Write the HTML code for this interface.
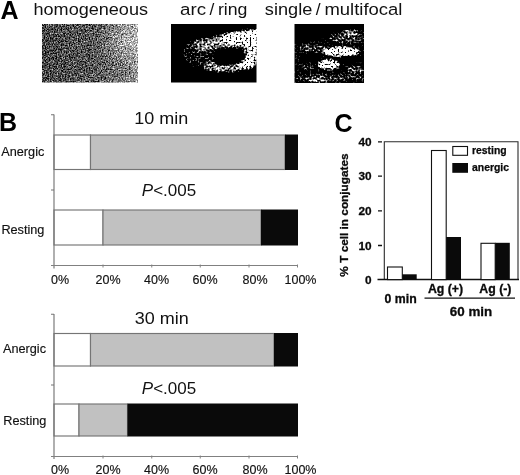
<!DOCTYPE html>
<html>
<head>
<meta charset="utf-8">
<title>Figure</title>
<style>
  html, body { margin: 0; padding: 0; background: #ffffff; }
  body { width: 520px; height: 475px; overflow: hidden; font-family: "Liberation Sans", sans-serif; }
  svg { display: block; opacity: 0.999; }
  text { font-family: "Liberation Sans", sans-serif; fill: #111; }
  .lbl { font-size: 17.4px; }
  .panel { font-size: 25px; font-weight: bold; fill: #000; }
  .tick { font-size: 12.5px; fill: #111; stroke: #111; stroke-width: 0.15px; }
  .cat { font-size: 12.7px; fill: #111; stroke: #111; stroke-width: 0.15px; }
  .ttl { font-size: 17px; fill: #111; }
  .cb { font-size: 11.8px; font-weight: bold; fill: #0a0a0a; stroke: #0a0a0a; stroke-width: 0.3px; }
  .lg { font-size: 10.4px; font-weight: bold; fill: #0a0a0a; stroke: #0a0a0a; stroke-width: 0.25px; }
  .xb { font-size: 12.3px; font-weight: bold; fill: #0a0a0a; stroke: #0a0a0a; stroke-width: 0.3px; }
</style>
</head>
<body>
<svg width="520" height="475" viewBox="0 0 520 475">
  <defs>
    <!-- noise filters for the micrographs -->
    <filter id="grainA" x="0" y="0" width="100%" height="100%" color-interpolation-filters="sRGB">
      <feTurbulence type="fractalNoise" baseFrequency="0.75" numOctaves="2" seed="3" result="t"/>
      <feColorMatrix in="t" type="matrix" values="1 0 0 0 0  1 0 0 0 0  1 0 0 0 0  0 0 0 0 1" result="n"/>
      <feComposite in="SourceGraphic" in2="n" operator="arithmetic" k1="0" k2="1" k3="1.3" k4="-0.65" result="s"/>
      <feComponentTransfer in="s">
        <feFuncR type="linear" slope="1.2" intercept="0"/>
        <feFuncG type="linear" slope="1.2" intercept="0"/>
        <feFuncB type="linear" slope="1.2" intercept="0"/>
      </feComponentTransfer>
      <feGaussianBlur stdDeviation="0.6"/>
    </filter>
    <filter id="grainB" x="0" y="0" width="100%" height="100%" color-interpolation-filters="sRGB">
      <feTurbulence type="fractalNoise" baseFrequency="0.5" numOctaves="2" seed="11" result="t"/>
      <feColorMatrix in="t" type="matrix" values="1 0 0 0 0  1 0 0 0 0  1 0 0 0 0  0 0 0 0 1" result="n"/>
      <feComposite in="SourceGraphic" in2="n" operator="arithmetic" k1="3.4" k2="-0.6" k3="0" k4="-0.25" result="s"/>
      <feComponentTransfer in="s">
        <feFuncR type="linear" slope="2.4" intercept="-0.35"/>
        <feFuncG type="linear" slope="2.4" intercept="-0.35"/>
        <feFuncB type="linear" slope="2.4" intercept="-0.35"/>
        <feFuncA type="linear" slope="0" intercept="1"/>
      </feComponentTransfer>
      <feGaussianBlur stdDeviation="0.7"/>
    </filter>
    <linearGradient id="gA" x1="0" y1="0" x2="1" y2="0">
      <stop offset="0" stop-color="#3a3a3a"/>
      <stop offset="0.5" stop-color="#484848"/>
      <stop offset="0.8" stop-color="#5e5e5e"/>
      <stop offset="0.94" stop-color="#787878"/>
      <stop offset="1" stop-color="#a8a8a8"/>
    </linearGradient>
    <radialGradient id="gA2" cx="126" cy="40" r="28" gradientUnits="userSpaceOnUse">
      <stop offset="0" stop-color="#fff" stop-opacity="0.32"/>
      <stop offset="1" stop-color="#fff" stop-opacity="0"/>
    </radialGradient>
    <filter id="blur3" x="-30%" y="-30%" width="160%" height="160%"><feGaussianBlur stdDeviation="3"/></filter>
    <filter id="blur2" x="-30%" y="-30%" width="160%" height="160%"><feGaussianBlur stdDeviation="2"/></filter>
    <filter id="blur1" x="-30%" y="-30%" width="160%" height="160%"><feGaussianBlur stdDeviation="1.3"/></filter>
    <clipPath id="cA"><rect x="42" y="24" width="96" height="58.5"/></clipPath>
    <clipPath id="cB"><rect x="171" y="24" width="85.5" height="58.5"/></clipPath>
    <clipPath id="cC"><rect x="294.5" y="24" width="69.5" height="59"/></clipPath>
  </defs>

  <rect x="0" y="0" width="520" height="475" fill="#ffffff"/>

  <!-- ================= Panel A ================= -->
  <text class="panel" x="0.5" y="19">A</text>
  <text class="lbl" x="33.5" y="14.6" textLength="114.5" lengthAdjust="spacingAndGlyphs">homogeneous</text>
  <text class="lbl" x="180" y="14.6"><tspan textLength="26" lengthAdjust="spacingAndGlyphs">arc</tspan><tspan dx="3.5">/</tspan><tspan dx="3.6" textLength="29.5" lengthAdjust="spacingAndGlyphs">ring</tspan></text>
  <text class="lbl" x="264.8" y="14.6"><tspan textLength="47.5" lengthAdjust="spacingAndGlyphs">single</tspan><tspan dx="3.5">/</tspan><tspan dx="3.8" textLength="78" lengthAdjust="spacingAndGlyphs">multifocal</tspan></text>

  <!-- micrograph 1 -->
  <g clip-path="url(#cA)">
    <g filter="url(#grainA)">
      <rect x="40" y="22" width="100" height="62" fill="url(#gA)"/>
      <rect x="40" y="22" width="100" height="62" fill="url(#gA2)"/>
    </g>
  </g>

  <!-- micrograph 2 -->
  <g clip-path="url(#cB)">
    <g filter="url(#grainB)">
      <rect x="169" y="22" width="90" height="63" fill="#000"/>
      <g filter="url(#blur2)">
        <ellipse cx="200" cy="53" rx="19" ry="16" fill="#5a5a5a"/>
        <path d="M 192 45 C 205 37, 225 31, 259 28 L 259 52 C 248 47, 230 45, 202 51 Z" fill="#989898"/>
        <path d="M 222 36 C 235 33, 247 32, 259 31 L 259 48 C 248 44, 235 42, 224 43 Z" fill="#fff"/>
        <path d="M 244 44 L 259 44 L 259 64 L 246 67 Z" fill="#c0c0c0"/>
        <path d="M 258 59 C 250 67, 232 71, 206 67" fill="none" stroke="#a4a4a4" stroke-width="8"/>
        <ellipse cx="247" cy="64" rx="8" ry="3.5" fill="#fff"/>
        <ellipse cx="226" cy="52" rx="16" ry="5" transform="rotate(-5 226 52)" fill="#000" opacity="0.62"/>
      </g>
    </g>
  </g>

  <!-- micrograph 3 -->
  <g clip-path="url(#cC)">
    <g filter="url(#grainB)">
      <rect x="292" y="22" width="75" height="64" fill="#000"/>
      <g filter="url(#blur1)">
        <path d="M 292 42 L 320 38 L 335 29 L 367 27 L 367 86 L 292 86 Z" fill="#444"/>
        <ellipse cx="347" cy="38" rx="17" ry="5" fill="#6c6c6c"/>
        <ellipse cx="351" cy="33" rx="8" ry="2.5" fill="#9a9a9a"/>
        <ellipse cx="312" cy="48" rx="14" ry="3.5" fill="#707070"/>
        <ellipse cx="341" cy="51.5" rx="18" ry="4" fill="#f0f0f0"/>
        <ellipse cx="329" cy="64.5" rx="10" ry="4" fill="#fff"/>
        <ellipse cx="306" cy="67" rx="9" ry="3" fill="#646464"/>
        <ellipse cx="355" cy="70" rx="9" ry="3.5" fill="#767676"/>
        <ellipse cx="330" cy="77.5" rx="36" ry="3" fill="#6a6a6a"/>
        <ellipse cx="318" cy="80" rx="9" ry="2" fill="#9a9a9a"/>
        <ellipse cx="350" cy="60" rx="12" ry="2.5" fill="#000" opacity="0.8"/>
        <ellipse cx="310" cy="58" rx="10" ry="3" fill="#000" opacity="0.8"/>
      </g>
    </g>
  </g>

  <!-- ================= Panel B ================= -->
  <text class="panel" x="-0.9" y="131.2">B</text>

  <!-- chart 1 -->
  <g>
    <text class="ttl" x="134.2" y="124.2" textLength="54" lengthAdjust="spacingAndGlyphs">10 min</text>
    <text class="ttl" x="169" y="196.3" text-anchor="middle"><tspan font-style="italic">P</tspan>&lt;.005</text>
    <text class="cat" x="1.3" y="155.7">Anergic</text>
    <text class="cat" x="1.4" y="233.6">Resting</text>
    <!-- bars -->
    <g stroke="#757575" stroke-width="1.15">
      <rect x="54" y="135" width="36.5" height="34.5" fill="#fff"/>
      <rect x="90.5" y="135" width="194.5" height="34.5" fill="#c1c1c1"/>
      <rect x="54" y="210" width="49" height="35" fill="#fff"/>
      <rect x="103" y="210" width="158" height="35" fill="#c1c1c1"/>
    </g>
    <rect x="285" y="134.5" width="13" height="35.5" fill="#0a0a0a"/>
    <rect x="261" y="209.5" width="37" height="36" fill="#0a0a0a"/>
    <!-- axes -->
    <g fill="none" stroke="#757575" stroke-width="1.15">
      <path d="M54 114.5 V268.5"/>
      <path d="M51 114.7 H54 M51 190 H54"/>
    </g>
    <g fill="none" stroke="#808080" stroke-width="1">
      <path d="M51 265.5 H298"/>
      <path d="M103 264.5 v3 M151.75 264.5 v3 M200.25 264.5 v3 M249 264.5 v3 M297.5 264.5 v3"/>
    </g>
    <text class="tick" x="60" y="283.8" text-anchor="middle">0%</text>
    <text class="tick" x="108" y="283.8" text-anchor="middle">20%</text>
    <text class="tick" x="156.5" y="283.8" text-anchor="middle">40%</text>
    <text class="tick" x="205" y="283.8" text-anchor="middle">60%</text>
    <text class="tick" x="255" y="283.8" text-anchor="middle">80%</text>
    <text class="tick" x="300.5" y="283.8" text-anchor="middle">100%</text>
  </g>

  <!-- chart 2 -->
  <g>
    <text class="ttl" x="134.7" y="324.2" textLength="54" lengthAdjust="spacingAndGlyphs">30 min</text>
    <text class="ttl" x="169" y="393.8" text-anchor="middle"><tspan font-style="italic">P</tspan>&lt;.005</text>
    <text class="cat" x="3" y="352.5">Anergic</text>
    <text class="cat" x="3.3" y="425.2">Resting</text>
    <g stroke="#757575" stroke-width="1.15">
      <rect x="54" y="333.5" width="36.5" height="32.5" fill="#fff"/>
      <rect x="90.5" y="333.5" width="183.5" height="32.5" fill="#c1c1c1"/>
      <rect x="54" y="404" width="25" height="32" fill="#fff"/>
      <rect x="79" y="404" width="48.5" height="32" fill="#c1c1c1"/>
    </g>
    <rect x="274" y="333" width="24" height="33.5" fill="#0a0a0a"/>
    <rect x="127.5" y="403.5" width="170.5" height="33" fill="#0a0a0a"/>
    <g fill="none" stroke="#757575" stroke-width="1.15">
      <path d="M54 314 V459"/>
      <path d="M51 314.2 H54 M51 385 H54"/>
    </g>
    <g fill="none" stroke="#808080" stroke-width="1">
      <path d="M51 456.5 H298"/>
      <path d="M103 455.5 v3 M151.75 455.5 v3 M200.25 455.5 v3 M249 455.5 v3 M297.5 455.5 v3"/>
    </g>
    <text class="tick" x="60" y="473.8" text-anchor="middle">0%</text>
    <text class="tick" x="108" y="473.8" text-anchor="middle">20%</text>
    <text class="tick" x="156.5" y="473.8" text-anchor="middle">40%</text>
    <text class="tick" x="205" y="473.8" text-anchor="middle">60%</text>
    <text class="tick" x="255" y="473.8" text-anchor="middle">80%</text>
    <text class="tick" x="300.5" y="473.8" text-anchor="middle">100%</text>
  </g>

  <!-- ================= Panel C ================= -->
  <text class="panel" x="334.4" y="131.5">C</text>
  <g>
    <!-- frame -->
    <path d="M384.3 280 V141.7 H518 V280" fill="none" stroke="#2a2a2a" stroke-width="1.1"/>
    <path d="M377.5 279.6 H519" stroke="#111" stroke-width="1.5"/>
    <path d="M378 141.8 h4 M378 176.1 h4 M378 210.8 h4 M378 245.5 h4" stroke="#111" stroke-width="1.3"/>
    <text class="cb" x="371.5" y="145.9" text-anchor="end">40</text>
    <text class="cb" x="371.5" y="180.3" text-anchor="end">30</text>
    <text class="cb" x="371.5" y="215" text-anchor="end">20</text>
    <text class="cb" x="371.5" y="249.7" text-anchor="end">10</text>
    <text class="cb" x="371.5" y="283.8" text-anchor="end">0</text>
    <text class="cb" transform="translate(348 215) rotate(-90)" text-anchor="middle">% T cell in conjugates</text>
    <!-- bars -->
    <g fill="#fff" stroke="#111" stroke-width="1.1">
      <rect x="387.5" y="267" width="14.8" height="12.6"/>
      <rect x="431.5" y="150.5" width="14.7" height="129.1"/>
      <rect x="481" y="243.3" width="14.2" height="36.3"/>
    </g>
    <rect x="402.3" y="274.3" width="14.4" height="5.5" fill="#0a0a0a"/>
    <rect x="446.2" y="237" width="14.8" height="43" fill="#0a0a0a"/>
    <rect x="495.2" y="242.8" width="14.6" height="37" fill="#0a0a0a"/>
    <!-- legend -->
    <rect x="452.8" y="146.5" width="14.7" height="8.8" fill="#fff" stroke="#111" stroke-width="1.1"/>
    <rect x="452.3" y="163" width="15.7" height="9.8" fill="#0a0a0a"/>
    <text class="lg" x="472" y="153.8">resting</text>
    <text class="lg" x="472" y="170.7">anergic</text>
    <!-- x labels -->
    <text class="xb" x="400.6" y="302.9" text-anchor="middle">0 min</text>
    <text class="xb" x="445.5" y="293" text-anchor="middle">Ag (+)</text>
    <text class="xb" x="495.4" y="293" text-anchor="middle">Ag (-)</text>
    <path d="M424.5 298.1 H515" stroke="#111" stroke-width="1.4"/>
    <text class="xb" style="font-size:13.4px" x="471" y="315.8" text-anchor="middle">60 min</text>
  </g>
</svg>
</body>
</html>
